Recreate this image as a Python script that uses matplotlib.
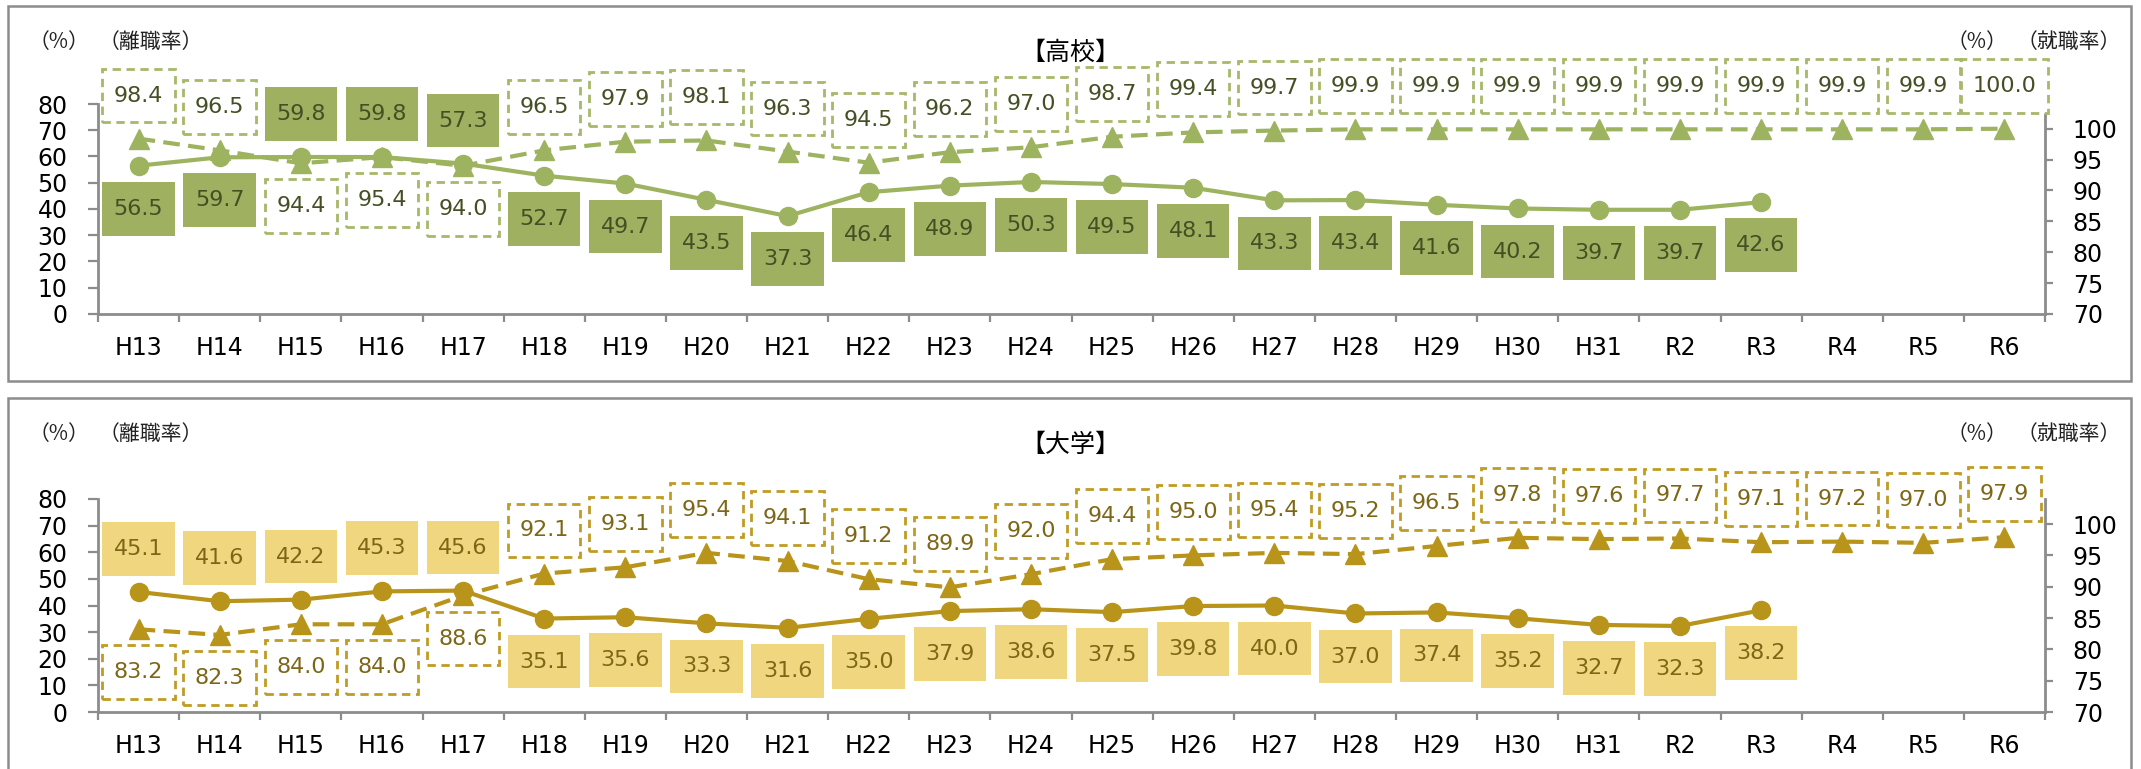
import matplotlib
matplotlib.use("Agg")
import matplotlib.pyplot as plt
from matplotlib.path import Path
from matplotlib.patches import Rectangle

# ---- data -------------------------------------------------------------
years = ["H13", "H14", "H15", "H16", "H17", "H18", "H19", "H20", "H21", "H22",
         "H23", "H24", "H25", "H26", "H27", "H28", "H29", "H30", "H31", "R2",
         "R3", "R4", "R5", "R6"]

# 高校: 離職率 (left axis) and 就職率 (right axis)
hs_turnover = [56.5, 59.7, 59.8, 59.8, 57.3, 52.7, 49.7, 43.5, 37.3, 46.4,
               48.9, 50.3, 49.5, 48.1, 43.3, 43.4, 41.6, 40.2, 39.7, 39.7, 42.6]
hs_employment = [98.4, 96.5, 94.4, 95.4, 94.0, 96.5, 97.9, 98.1, 96.3, 94.5,
                 96.2, 97.0, 98.7, 99.4, 99.7, 99.9, 99.9, 99.9, 99.9, 99.9,
                 99.9, 99.9, 99.9, 100.0]

# 大学: 離職率 (left axis) and 就職率 (right axis)
univ_turnover = [45.1, 41.6, 42.2, 45.3, 45.6, 35.1, 35.6, 33.3, 31.6, 35.0,
                 37.9, 38.6, 37.5, 39.8, 40.0, 37.0, 37.4, 35.2, 32.7, 32.3, 38.2]
univ_employment = [83.2, 82.3, 84.0, 84.0, 88.6, 92.1, 93.1, 95.4, 94.1, 91.2,
                   89.9, 92.0, 94.4, 95.0, 95.4, 95.2, 96.5, 97.8, 97.6, 97.7,
                   97.1, 97.2, 97.0, 97.9]

left_ticks = [0, 10, 20, 30, 40, 50, 60, 70, 80]
right_ticks = [70, 75, 80, 85, 90, 95, 100]

# ---- figure -----------------------------------------------------------
W, H = 2141, 769
fig = plt.figure(figsize=(W / 100, H / 100), dpi=100)
plt.rcParams["font.family"] = ["DejaVu Sans", "Noto Sans CJK JP"]
JP = ["Noto Sans CJK JP", "DejaVu Sans"]
AXIS_GRAY = "#8c8c8c"


def fx(x):
    return x / W


def fy(y):
    return 1 - y / H


class PadBox:
    """Rectangular label box with separate horizontal/vertical padding."""

    def __init__(self, padx, pady):
        self.padx = padx
        self.pady = pady

    def __call__(self, x0, y0, width, height, mutation_size):
        px = self.padx * mutation_size
        py = self.pady * mutation_size
        x0, y0 = x0 - px, y0 - py
        x1, y1 = x0 + width + 2 * px, y0 + height + 2 * py
        return Path([(x0, y0), (x1, y0), (x1, y1), (x0, y1), (x0, y0)],
                    closed=True)


def draw_panel(frame_top, frame_bottom, ax_top, ax_bottom, title,
               turnover, employment, line_c, box_c, dash_c, text_c):
    # panel frame
    fig.patches.append(Rectangle((fx(8), fy(frame_bottom)),
                                 fx(2131) - fx(8), fy(frame_top) - fy(frame_bottom),
                                 transform=fig.transFigure, fill=False,
                                 ec=AXIS_GRAY, lw=1.8, zorder=0))

    l, r = 98, 2045
    ax = fig.add_axes([fx(l), fy(ax_bottom), fx(r) - fx(l),
                       fy(ax_top) - fy(ax_bottom)])
    ax2 = ax.twinx()
    n = len(years)
    x_all = list(range(n))
    x_t = list(range(len(turnover)))

    ax.set_xlim(-0.5, n - 0.5)
    ax.set_ylim(0, 80)
    ax2.set_ylim(70, 104)

    ax.plot(x_t, turnover, color=line_c, lw=3, marker="o", ms=13,
            solid_capstyle="round", zorder=3)
    ax2.plot(x_all, employment, color=line_c, lw=3, ls=(0, (4, 2)),
             marker="^", ms=14, zorder=3)

    # spines
    for s in ("top", "right"):
        ax.spines[s].set_visible(False)
    for s in ("top", "left", "bottom"):
        ax2.spines[s].set_visible(False)
    for sp in (ax.spines["left"], ax.spines["bottom"], ax2.spines["right"]):
        sp.set_color(AXIS_GRAY)
        sp.set_linewidth(2)

    ax.set_yticks(left_ticks)
    ax.tick_params(axis="y", length=7, width=1.6, color=AXIS_GRAY,
                   labelsize=17, pad=15)
    ax2.set_yticks(right_ticks)
    ax2.tick_params(axis="y", length=6, width=1.6, color=AXIS_GRAY,
                    labelsize=17, pad=14)

    ax.set_xticks(x_all)
    ax.set_xticklabels(years)
    ax.set_xticks([i - 0.5 for i in range(n + 1)], minor=True)
    ax.tick_params(axis="x", which="major", length=0, labelsize=17, pad=16)
    ax.tick_params(axis="x", which="minor", length=6, width=1.6,
                   color=AXIS_GRAY)

    # value labels: whichever series sits higher gets its label above
    def frac_left(v):
        return v / 80.0

    def frac_right(v):
        return (v - 70.0) / 34.0

    off = 31
    box = PadBox(0.52, 0.76)
    for i, v in enumerate(employment):
        up = True
        if i < len(turnover):
            up = frac_right(v) >= frac_left(turnover[i])
        ax2.annotate(f"{v:.1f}", xy=(i, v), xycoords=ax2.transData,
                     xytext=(0, off if up else -off), textcoords="offset points",
                     ha="center", va="center", fontsize=16, color=text_c,
                     zorder=5,
                     bbox=dict(boxstyle=box, fc="white",
                               ec=dash_c, lw=2, ls=(0, (3, 2))))
    for i, v in enumerate(turnover):
        up = frac_left(v) > frac_right(employment[i])
        ax2.annotate(f"{v:.1f}", xy=(i, v), xycoords=ax.transData,
                     xytext=(0, off if up else -off), textcoords="offset points",
                     ha="center", va="center", fontsize=16, color=text_c,
                     zorder=5,
                     bbox=dict(boxstyle=box, fc=box_c, ec="none"))

    # headings
    fig.text(fx(1070), fy(frame_top + 47), title, fontsize=18,
             family=JP, ha="center", va="center")
    ty = fy(frame_top + 36)
    fig.text(fx(59), ty, "（%）", fontsize=15, family=JP, ha="center",
             va="center", color="#222222")
    fig.text(fx(151), ty, "（離職率）", fontsize=15, family=JP, ha="center",
             va="center", color="#222222")
    fig.text(fx(1977), ty, "（%）", fontsize=15, family=JP, ha="center",
             va="center", color="#222222")
    fig.text(fx(2069), ty, "（就職率）", fontsize=15, family=JP, ha="center",
             va="center", color="#222222")


draw_panel(6, 381, 104, 314, "【高校】", hs_turnover, hs_employment,
           line_c="#9db35f", box_c="#9fb160", dash_c="#a6b86a",
           text_c="#454f24")
draw_panel(398, 800, 499, 712, "【大学】", univ_turnover, univ_employment,
           line_c="#b9941a", box_c="#f1d680", dash_c="#c09c24",
           text_c="#7d6616")

fig.savefig("out.png", dpi=100)
